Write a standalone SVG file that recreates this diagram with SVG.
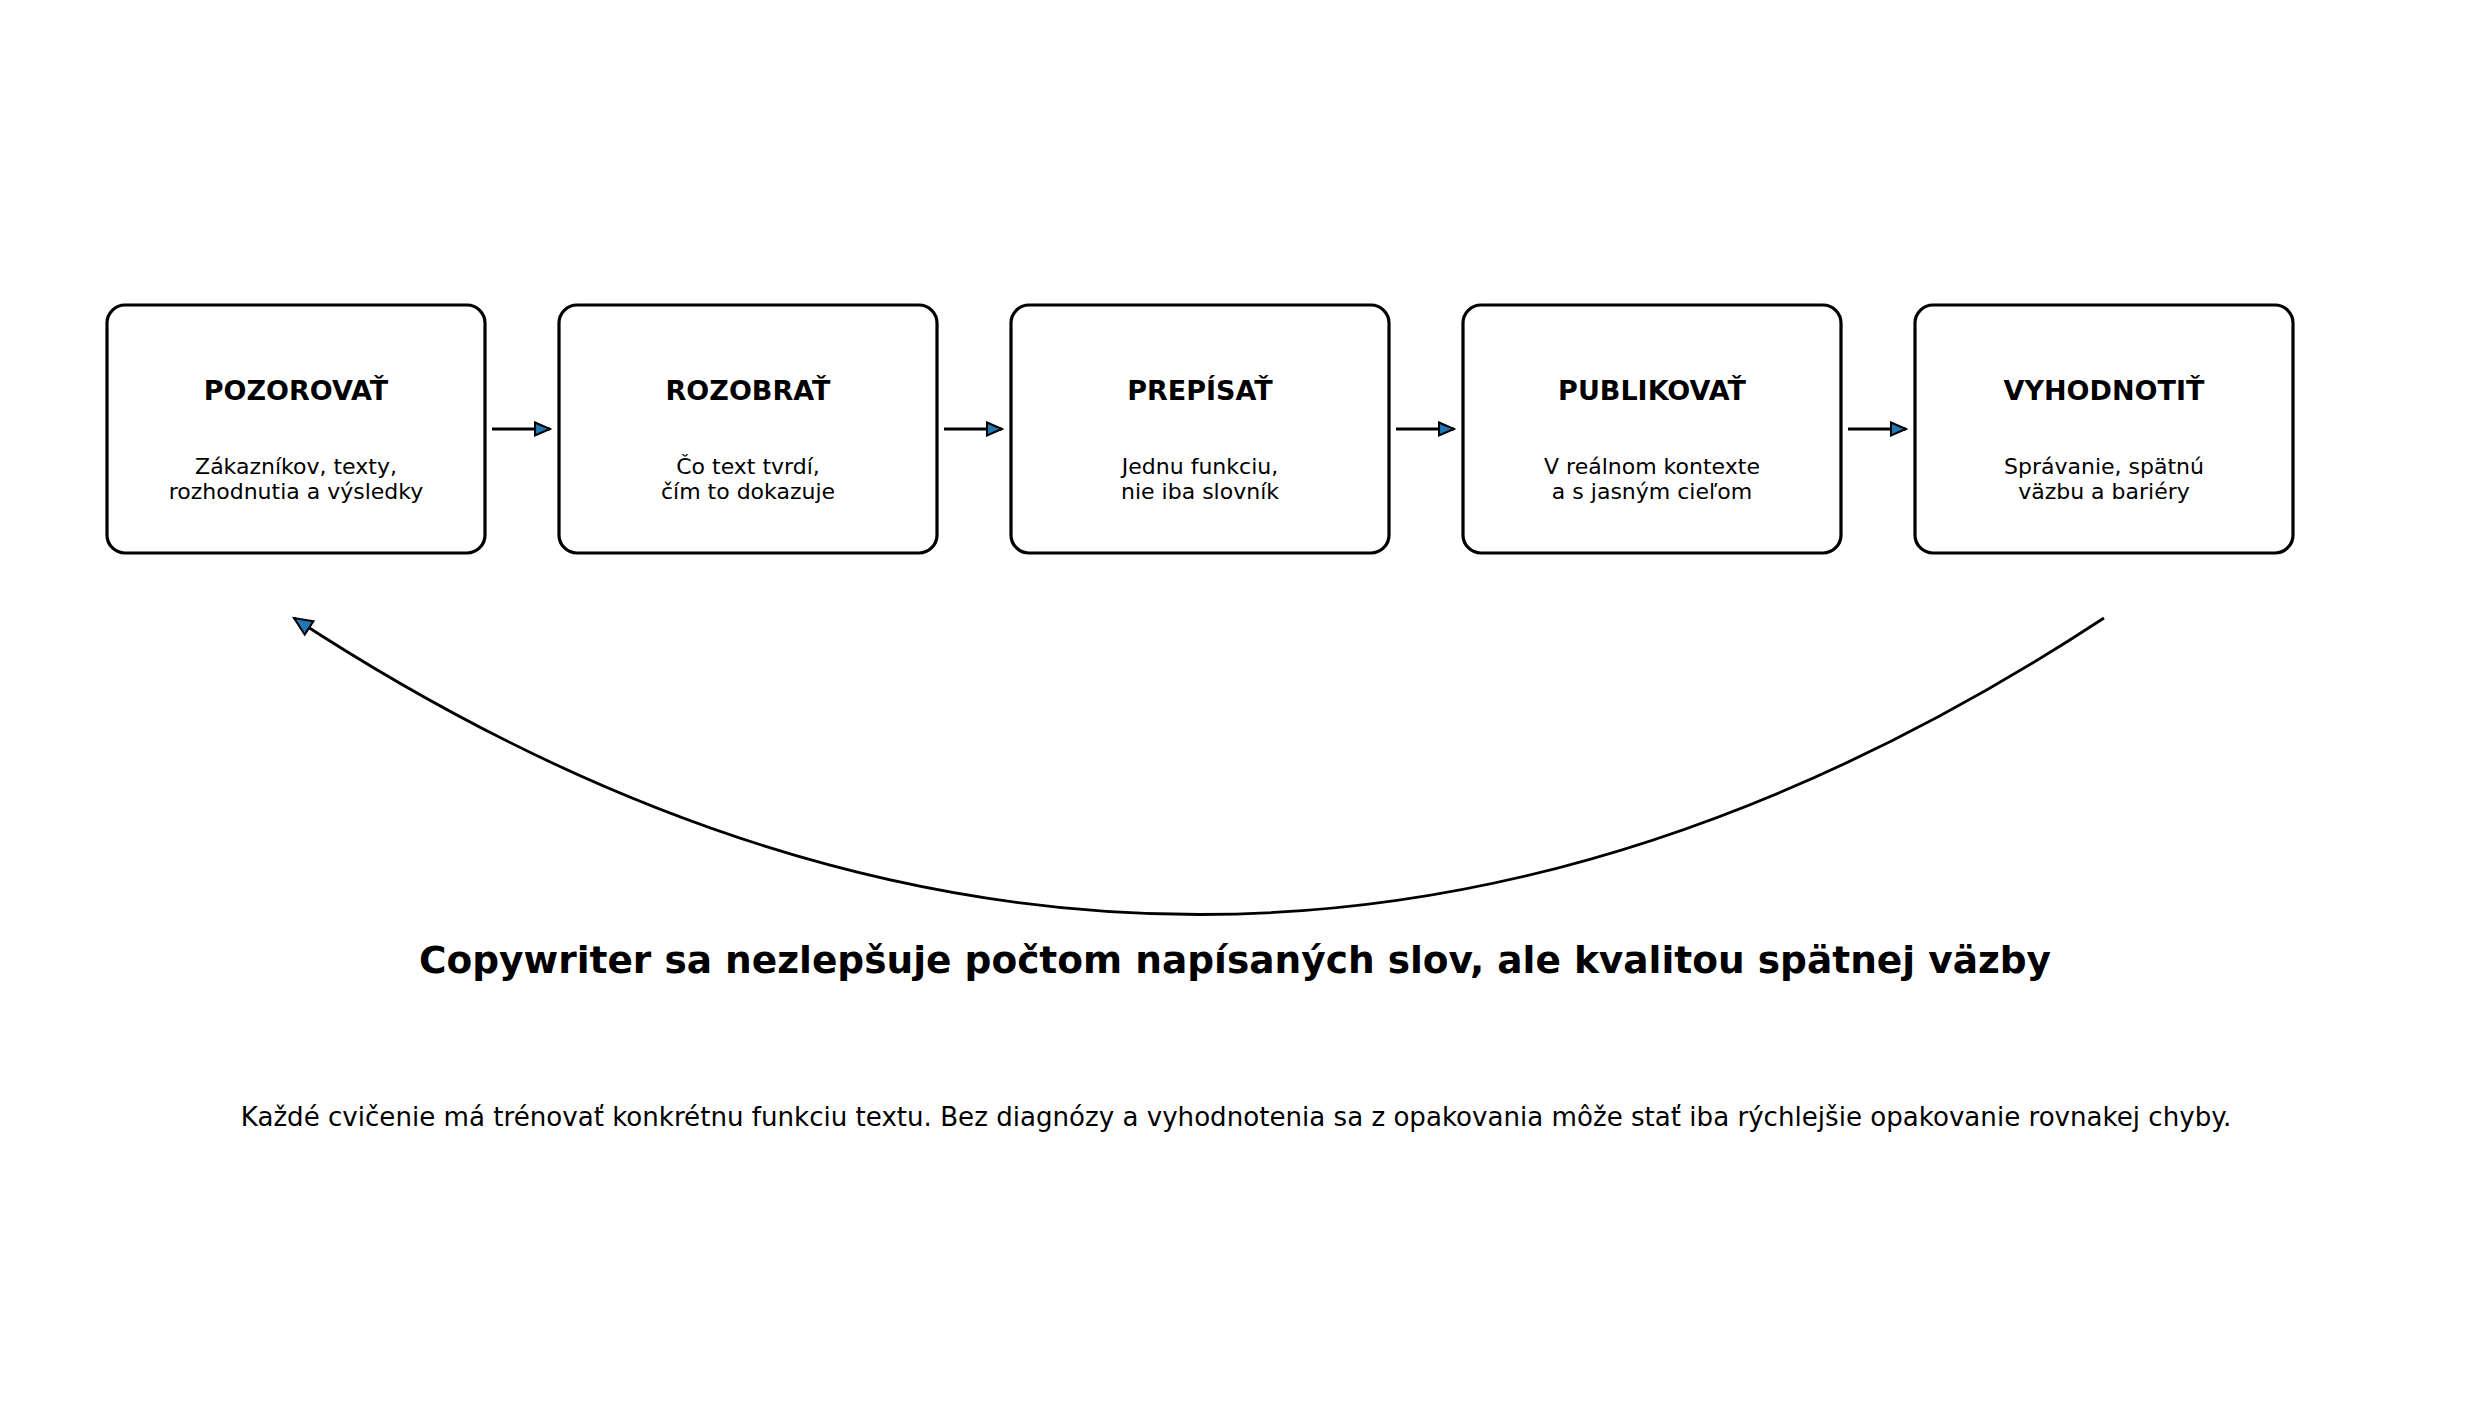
<svg xmlns="http://www.w3.org/2000/svg" width="2470" height="1421" viewBox="0 0 2470 1421">
<style>
  .box { fill: #ffffff; stroke: #000000; stroke-width: 3.2; }
  .ttl { font-family: "DejaVu Sans", sans-serif; font-weight: bold; font-size: 27px; text-anchor: middle; fill: #000; }
  .sub { font-family: "DejaVu Sans", sans-serif; font-size: 22px; text-anchor: middle; fill: #000; }
  .conn { fill: none; stroke: #000000; stroke-width: 2.8; }
  .head { fill: #1f77b4; stroke: #000000; stroke-width: 2; stroke-linejoin: miter; }
  .big { font-family: "DejaVu Sans", sans-serif; font-weight: bold; font-size: 37.5px; text-anchor: middle; fill: #000; }
  .note { font-family: "DejaVu Sans", sans-serif; font-size: 26.1px; text-anchor: middle; fill: #000; }
</style>
<defs>
  <marker id="ah" markerUnits="userSpaceOnUse" viewBox="-2 -2 20 18" markerWidth="20" markerHeight="18" refX="15" refY="7" orient="auto">
    <path class="head" d="M0,0.5 L15,7 L0,13.5 Z"/>
  </marker>
  <marker id="ahBig" markerUnits="userSpaceOnUse" viewBox="-2 -2 23 20" markerWidth="23" markerHeight="20" refX="18" refY="8" orient="auto">
    <path class="head" d="M0,0 L18,8 L0,16 Z"/>
  </marker>
</defs>
<rect width="2470" height="1421" fill="#ffffff"/>

<g id="connectors">
  <line class="conn" x1="492" y1="429" x2="550" y2="429" marker-end="url(#ah)"/>
  <line class="conn" x1="944" y1="429" x2="1002" y2="429" marker-end="url(#ah)"/>
  <line class="conn" x1="1396" y1="429" x2="1454" y2="429" marker-end="url(#ah)"/>
  <line class="conn" x1="1848" y1="429" x2="1906" y2="429" marker-end="url(#ah)"/>
  <path class="conn" d="M2104,618 Q1200,1211 294,618" marker-end="url(#ahBig)"/>
</g>

<g id="node-pozorovat">
  <rect class="box" x="107" y="305" width="378" height="248" rx="18"/>
  <text class="ttl" x="296" y="400">POZOROVAŤ</text>
  <text class="sub" x="296" y="474">Zákazníkov, texty,</text>
  <text class="sub" x="296" y="499">rozhodnutia a výsledky</text>
</g>
<g id="node-rozobrat">
  <rect class="box" x="559" y="305" width="378" height="248" rx="18"/>
  <text class="ttl" x="748" y="400">ROZOBRAŤ</text>
  <text class="sub" x="748" y="474">Čo text tvrdí,</text>
  <text class="sub" x="748" y="499">čím to dokazuje</text>
</g>
<g id="node-prepisat">
  <rect class="box" x="1011" y="305" width="378" height="248" rx="18"/>
  <text class="ttl" x="1200" y="400">PREPÍSAŤ</text>
  <text class="sub" x="1200" y="474">Jednu funkciu,</text>
  <text class="sub" x="1200" y="499">nie iba slovník</text>
</g>
<g id="node-publikovat">
  <rect class="box" x="1463" y="305" width="378" height="248" rx="18"/>
  <text class="ttl" x="1652" y="400">PUBLIKOVAŤ</text>
  <text class="sub" x="1652" y="474">V reálnom kontexte</text>
  <text class="sub" x="1652" y="499">a s jasným cieľom</text>
</g>
<g id="node-vyhodnotit">
  <rect class="box" x="1915" y="305" width="378" height="248" rx="18"/>
  <text class="ttl" x="2104" y="400">VYHODNOTIŤ</text>
  <text class="sub" x="2104" y="474">Správanie, spätnú</text>
  <text class="sub" x="2104" y="499">väzbu a bariéry</text>
</g>

<g id="captions">
  <text class="big" x="1235" y="973">Copywriter sa nezlepšuje počtom napísaných slov, ale kvalitou spätnej väzby</text>
  <text class="note" x="1236" y="1126">Každé cvičenie má trénovať konkrétnu funkciu textu. Bez diagnózy a vyhodnotenia sa z opakovania môže stať iba rýchlejšie opakovanie rovnakej chyby.</text>
</g>
</svg>
